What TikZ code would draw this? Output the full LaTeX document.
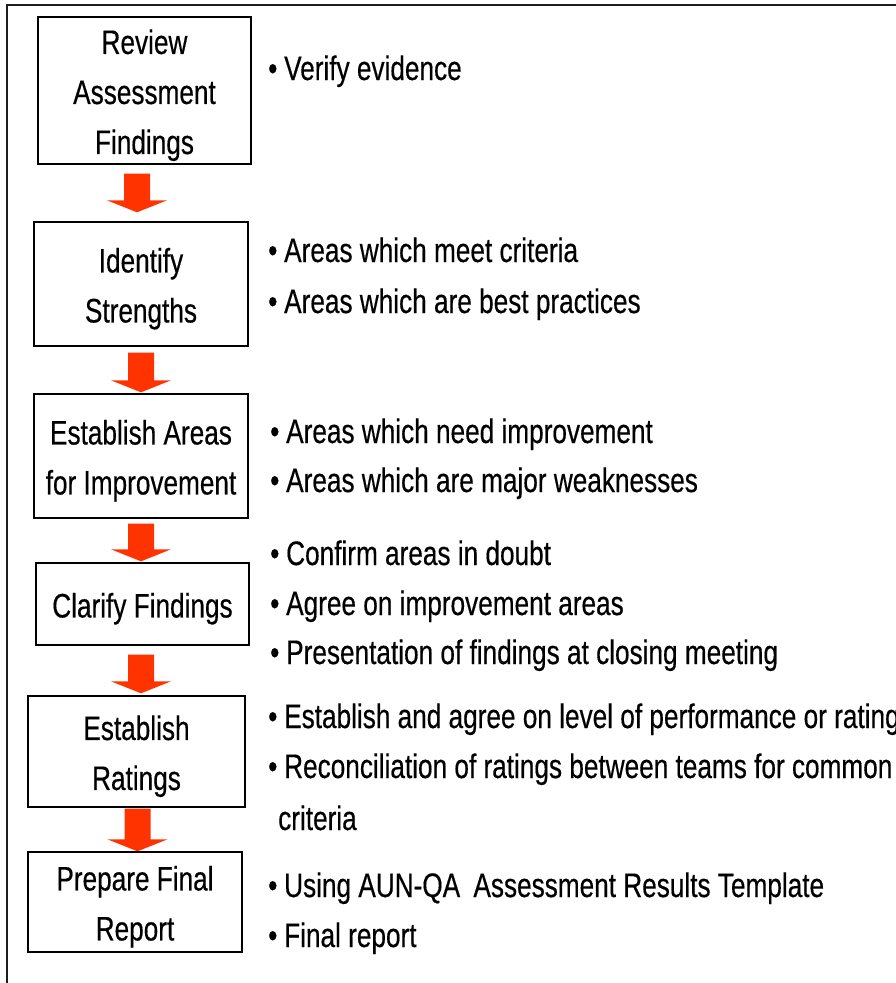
\documentclass[tikz,border=0pt]{standalone}
\usepackage{fontspec}
\setmainfont{Liberation Sans}[FakeStretch=0.77,FakeBold=0.4]
\usetikzlibrary{calc}
\definecolor{arrowred}{RGB}{255,51,0}
\definecolor{framegray}{RGB}{30,30,30}
\newcommand\sst{\rule[-5.7pt]{0pt}{39.7pt}}
\newcommand\bul{\makebox[16pt][l]{•}}
\newcommand\flowarrow[2]{%
  \fill[arrowred] let \p1=(#1), \p2=(#2) in
   (\x1-13pt,\y1) -- (\x1+13pt,\y1) -- (\x1+13pt,\y2+12pt) -- (\x1+30pt,\y2+12pt)
   -- (\x1,\y2) -- (\x1-30pt,\y2+12pt) -- (\x1-13pt,\y2+12pt) -- cycle;}
\begin{document}
\begin{tikzpicture}[x=1pt,y=-1pt,
  stepbox/.style={draw=black,line width=1.4pt,inner sep=0pt,align=center,
    font=\fontsize{34}{50}\selectfont},
  item/.style={anchor=base west,inner sep=0pt,font=\fontsize{34}{50}\selectfont}]
\useasboundingbox (0,0) rectangle (896,983);
\clip (0,0) rectangle (896,983);
\fill[white] (0,0) rectangle (896,983);
\draw[framegray,line width=2pt] (7,990) -- (7,5) -- (900,5);

\node[stepbox,minimum width=213pt,minimum height=147pt] (b1) at (144.5,90.5) {Review\sst\\Assessment\sst\\Findings\sst};
\node[stepbox,minimum width=214pt,minimum height=124pt] (b2) at (141,284) {Identify\sst\\Strengths\sst};
\node[stepbox,minimum width=214pt,minimum height=124pt] (b3) at (141,456) {Establish Areas\sst\\for Improvement\sst};
\node[stepbox,minimum width=213pt,minimum height=82pt] (b4) at (142.5,604) {Clarify Findings\sst};
\node[stepbox,minimum width=217pt,minimum height=111pt] (b5) at (136.5,751.5) {Establish\sst\\Ratings\sst};
\node[stepbox,minimum width=214pt,minimum height=100pt] (b6) at (135,902) {Prepare Final\sst\\Report\sst};

\flowarrow{[shift={(-7.5,9)}]b1.south}{[shift={(-4,-9)}]b2.north}
\flowarrow{[shift={(0,6)}]b2.south}{[shift={(0,-1)}]b3.north}
\flowarrow{[shift={(0,5)}]b3.south}{[shift={(-1.5,-1)}]b4.north}
\flowarrow{[shift={(-1.5,9)}]b4.south}{[shift={(4.5,-2)}]b5.north}
\flowarrow{[shift={(1,1)}]b5.south}{[shift={(2,0)}]b6.north}

\node[item] (r1) at (268,80) {\bul Verify evidence};
\node[item] (r2) at (268,262) {\bul Areas which meet criteria};
\node[item] (r3) at (268,313) {\bul Areas which are best practices};
\node[item] (r4) at (270,443) {\bul Areas which need improvement};
\node[item] (r5) at (270,492) {\bul Areas which are major weaknesses};
\node[item] (r6) at (270,565) {\bul Confirm areas in doubt};
\node[item] (r7) at (270,615) {\bul Agree on improvement areas};
\node[item] (r8) at (270,664) {\bul Presentation of findings at closing meeting};
\node[item] (r9) at (268,728) {\bul Establish and agree on level of performance or rating};
\node[item] (r10) at (268,778) {\bul Reconciliation of ratings between teams for common};
\node[item] (r11) at (278,830) {criteria};
\node[item] (r12) at (268,897) {\bul Using AUN-QA\hspace{6pt} Assessment Results Template};
\node[item] (r13) at (268,947) {\bul Final report};
\end{tikzpicture}
\end{document}
